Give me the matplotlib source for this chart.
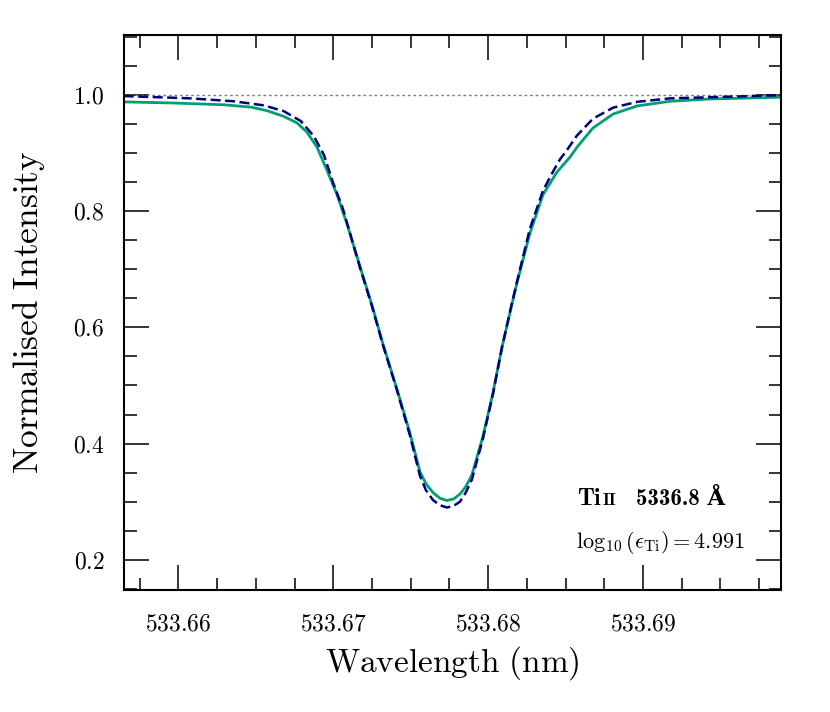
import matplotlib
matplotlib.use("Agg")
import matplotlib.pyplot as plt
from matplotlib.ticker import MultipleLocator, FuncFormatter

plt.rcParams["font.family"] = "serif"
plt.rcParams["font.serif"] = ["cmr10", "DejaVu Serif"]
plt.rcParams["mathtext.fontset"] = "cm"
plt.rcParams["axes.formatter.use_mathtext"] = True

# synthetic line profile (green, solid)
wl_synth = [533.65646, 533.65969, 533.66292, 533.66467, 533.66570, 533.66680,
            533.66764, 533.66829, 533.66893, 533.66958, 533.67023, 533.67087,
            533.67171, 533.67249, 533.67320, 533.67411, 533.67495, 533.67559,
            533.67598, 533.67643, 533.67688, 533.67734, 533.67779, 533.67818,
            533.67856, 533.67895, 533.67966, 533.68031, 533.68089, 533.68154,
            533.68186, 533.68270, 533.68354, 533.68444, 533.68529, 533.68574,
            533.68677, 533.68807, 533.68962, 533.69175, 533.69434, 533.69893]
int_synth = [0.988, 0.986, 0.983, 0.979, 0.973, 0.963,
             0.952, 0.936, 0.911, 0.871, 0.829, 0.779,
             0.706, 0.639, 0.572, 0.494, 0.418, 0.352,
             0.331, 0.316, 0.306, 0.302, 0.305, 0.313,
             0.326, 0.346, 0.412, 0.487, 0.565, 0.640,
             0.676, 0.762, 0.828, 0.867, 0.893, 0.910,
             0.943, 0.967, 0.981, 0.989, 0.993, 0.996]

# observed atlas profile (navy, dashed)
wl_obs = [533.65646, 533.66079, 533.66357, 533.66551, 533.66680, 533.66790,
          533.66874, 533.66939, 533.66997, 533.67061, 533.67171, 533.67249,
          533.67320, 533.67411, 533.67495, 533.67559, 533.67598, 533.67643,
          533.67688, 533.67734, 533.67779, 533.67818, 533.67856, 533.67895,
          533.67966, 533.68031, 533.68089, 533.68154, 533.68186, 533.68270,
          533.68354, 533.68419, 533.68464, 533.68509, 533.68574, 533.68677,
          533.68807, 533.68962, 533.69175, 533.69893]
int_obs = [0.998, 0.994, 0.989, 0.982, 0.972, 0.955,
           0.929, 0.897, 0.850, 0.805, 0.704, 0.637,
           0.570, 0.492, 0.414, 0.345, 0.320, 0.303,
           0.294, 0.290, 0.293, 0.300, 0.316, 0.338,
           0.408, 0.485, 0.565, 0.642, 0.678, 0.770,
           0.835, 0.868, 0.889, 0.905, 0.930, 0.959,
           0.978, 0.988, 0.994, 0.9995]

fig = plt.figure(figsize=(8.3, 7.12), dpi=100)
ax = fig.add_axes([0.1494, 0.1713, 0.7916, 0.7795])

ax.axhline(1.0, color="grey", ls=(0, (2, 2)), lw=1.0)
ax.plot(wl_synth, int_synth, color="#009e73", lw=2.0)
ax.plot(wl_obs, int_obs, color="navy", lw=1.8, ls=(0, (4, 1.8)))

ax.set_xlim(533.65648, 533.69892)
ax.set_ylim(0.148, 1.103)

ax.xaxis.set_major_locator(MultipleLocator(0.01))
ax.xaxis.set_minor_locator(MultipleLocator(0.0025))
ax.yaxis.set_major_locator(MultipleLocator(0.2))
ax.yaxis.set_minor_locator(MultipleLocator(0.05))
ax.xaxis.set_major_formatter(FuncFormatter(lambda v, p: f"${v:.2f}$"))
ax.yaxis.set_major_formatter(FuncFormatter(lambda v, p: f"${v:.1f}$"))

ax.tick_params(which="both", direction="in", top=True, right=True, labelsize=17)
ax.tick_params(which="major", length=18, width=1.1, pad=14)
ax.tick_params(axis="x", which="major", pad=17)
ax.tick_params(which="minor", length=9, width=1.1)
for s in ax.spines.values():
    s.set_linewidth(1.5)

ax.set_xlabel(r"$\mathrm{Wavelength\ (nm)}$", fontsize=24, labelpad=6)
ax.set_ylabel(r"$\mathrm{Normalised\ Intensity}$", fontsize=25.5, labelpad=19)

tr = ax.transAxes
bold = ["cmb10", "DejaVu Serif"]
ax.text(0.689, 0.153, "Ti", transform=tr, fontsize=17.5, ha="left", va="baseline",
        family=bold, weight="bold")
ax.text(0.729, 0.153, "II", transform=tr, fontsize=12.5, ha="left", va="baseline",
        family=bold, weight="bold")
ax.text(0.780, 0.153, "5336.8 Å", transform=tr, fontsize=16.5, ha="left",
        va="baseline", family=bold, weight="bold")
ax.text(0.688, 0.076, r"$\log_{10}(\epsilon_{\rm Ti}) = 4.991$", transform=tr,
        fontsize=16, ha="left", va="baseline")

fig.savefig("out.png", dpi=100)
